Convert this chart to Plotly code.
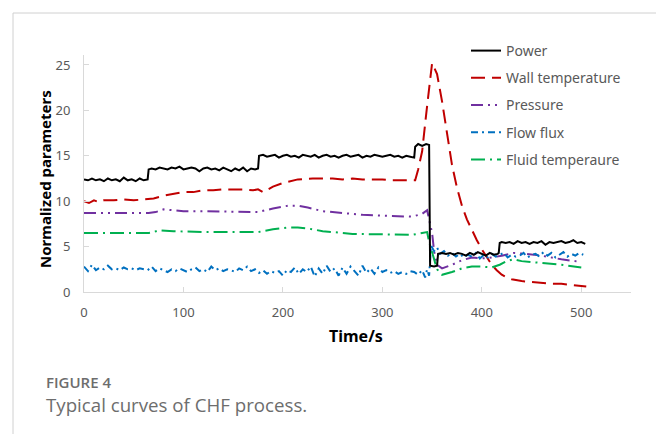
import plotly.graph_objects as go

# ---------------- data ----------------
power_t = [0, 4, 8, 12, 16, 20, 24, 28, 32, 36, 40, 44, 48, 52, 56, 60, 64,
           65, 68, 72, 76, 80, 84, 88, 92, 96, 100, 104, 108, 112, 116, 120, 124, 128,
           132, 136, 140, 144, 148, 152, 156, 160, 164, 168, 172, 175,
           176, 180, 184, 188, 192, 196, 200, 204, 208, 212, 216, 220, 224, 228, 232,
           236, 240, 244, 248, 252, 256, 260, 264, 268, 272, 276, 280, 284, 288, 292,
           296, 300, 304, 308, 312, 316, 320, 324, 328, 332,
           333, 336, 340, 344, 347, 348, 352, 355, 356,
           360, 364, 368, 372, 376, 380, 384, 388, 392, 396, 400, 404, 408, 412, 416, 417,
           418, 420, 424, 428, 432, 436, 440, 444, 448, 452, 456, 460, 464, 468, 472,
           476, 480, 484, 488, 492, 496, 500, 504]
power_v = [12.4, 12.3, 12.5, 12.3, 12.4, 12.2, 12.5, 12.3, 12.4, 12.2, 12.6, 12.3, 12.4, 12.2, 12.5, 12.3, 12.4,
           13.5, 13.6, 13.5, 13.7, 13.6, 13.5, 13.7, 13.6, 13.8, 13.5, 13.6, 13.7, 13.6, 13.3, 13.6, 13.7, 13.5,
           13.6, 13.4, 13.7, 13.5, 13.3, 13.6, 13.4, 13.7, 13.3, 13.6, 13.5, 13.6,
           15.0, 15.1, 14.9, 15.0, 15.1, 14.8, 15.0, 15.1, 14.9, 15.0, 14.8, 15.1, 15.0, 14.9, 15.1,
           14.8, 15.0, 15.1, 14.9, 15.0, 14.8, 15.0, 15.1, 14.9, 15.0, 15.1, 14.8, 15.0, 14.9, 15.1,
           15.0, 14.9, 15.0, 15.1, 14.9, 15.0, 14.8, 15.0, 14.9, 14.8,
           16.0, 16.3, 16.1, 16.3, 16.2, 2.9, 2.8, 2.9, 4.2,
           4.3, 4.2, 4.3, 4.1, 4.3, 4.2, 4.0, 4.3, 4.1, 4.4, 4.2, 4.0, 4.3, 4.1, 4.2, 4.3,
           5.4, 5.5, 5.4, 5.5, 5.3, 5.6, 5.4, 5.5, 5.3, 5.5, 5.4, 5.6, 5.2, 5.5, 5.4,
           5.5, 5.6, 5.4, 5.5, 5.7, 5.4, 5.5, 5.3]

wall_t = [0, 5, 10, 15, 20, 30, 40, 50, 60, 70, 80, 90, 100, 110, 120, 130, 140, 150, 160, 170, 175,
          180, 190, 200, 215, 230, 240, 250, 260, 270, 280, 290, 300, 310, 320, 333,
          336, 340, 345, 350, 355, 360, 365, 370, 375, 380, 385, 390, 395, 400, 405, 410, 415,
          420, 425, 430, 440, 450, 460, 470, 480, 490, 500, 505]
wall_v = [10.0, 9.8, 10.1, 9.9, 10.1, 10.1, 10.2, 10.1, 10.2, 10.3, 10.6, 10.8, 11.0, 11.0, 11.2, 11.2, 11.3, 11.3, 11.3, 11.2, 11.3,
          11.0, 11.6, 12.0, 12.4, 12.5, 12.5, 12.5, 12.4, 12.5, 12.4, 12.4, 12.4, 12.3, 12.3, 12.3,
          13.5, 15.5, 20.5, 25.2, 24.0, 21.0, 17.5, 14.0, 11.5, 9.5, 8.0, 6.8, 5.7, 4.7, 3.9, 3.0, 2.4,
          1.9, 1.6, 1.4, 1.2, 1.1, 1.0, 0.9, 0.9, 0.8, 0.7, 0.6]

press_t = [0, 20, 40, 65, 72, 80, 90, 100, 120, 150, 175, 190, 205, 215, 225, 240, 260, 280, 300, 320,
           330, 340, 345, 347, 350, 352, 355, 360, 370, 380, 390, 400, 410, 420, 432, 445, 460, 480, 500]
press_v = [8.7, 8.7, 8.7, 8.7, 8.8, 9.1, 9.0, 8.9, 8.9, 8.85, 8.8, 9.2, 9.5, 9.5, 9.3, 8.9, 8.7, 8.5, 8.4, 8.3,
           8.3, 8.6, 9.0, 8.0, 6.5, 4.5, 3.0, 2.6, 3.0, 3.5, 3.8, 3.7, 3.8, 4.0, 4.3, 4.2, 4.0, 3.6, 3.3]

flow_t = [0, 4, 8, 12, 16, 20, 24, 28, 32, 36, 40, 44, 48, 52, 56, 60, 64, 68, 72, 76,
          80, 84, 88, 92, 96, 100, 104, 108, 112, 116, 120, 124, 128, 132, 136, 140, 144, 148, 152, 156,
          160, 164, 168, 172, 176, 180, 184, 188, 192, 196, 200, 204, 208, 212, 216, 220, 224, 228, 232, 236,
          240, 244, 248, 252, 256, 260, 264, 268, 272, 276, 280, 284, 288, 292, 296, 300, 304, 308, 312, 316,
          320, 324, 328, 332, 336, 340, 343, 345, 347,
          349, 352, 355, 358, 362, 366, 370, 374, 378, 382, 386, 390, 394, 398, 402, 406, 410, 414, 418,
          422, 426, 430, 434, 438, 442, 446, 450, 454, 458, 462, 466, 470, 474, 478, 482, 486, 490, 494, 498, 502]
flow_v = [2.8, 2.3, 3.0, 2.4, 2.7, 2.5, 2.9, 2.5, 2.6, 2.4, 2.7, 2.5, 2.6, 2.4, 2.6, 2.5, 2.4, 2.8, 2.3, 2.6,
          2.4, 2.2, 2.5, 2.3, 2.6, 2.4, 2.2, 2.5, 2.7, 2.3, 2.5, 2.2, 2.8, 2.4, 2.6, 2.3, 2.5, 2.4, 2.2, 2.6,
          2.4, 2.8, 2.3, 2.5, 2.1, 2.4, 2.0, 2.3, 2.1, 2.3, 1.8, 2.4, 2.2, 2.7, 2.0, 2.5, 2.2, 2.8, 1.7, 2.6,
          2.0, 2.9, 2.2, 2.6, 1.8, 2.7, 2.0, 2.8, 2.3, 1.8, 2.9, 2.1, 2.6, 2.0, 2.7, 2.2, 2.4, 2.1, 2.3, 2.0,
          2.2, 2.0, 2.3, 2.2, 1.9, 2.4, 1.6, 2.5, 1.8,
          5.1, 4.5, 4.9, 4.2, 4.5, 4.0, 4.3, 3.9, 4.2, 3.8, 4.1, 3.9, 4.3, 3.7, 4.1, 3.8, 4.2, 3.9, 4.1,
          4.3, 3.8, 4.1, 3.9, 4.0, 4.3, 3.8, 4.1, 4.2, 3.9, 4.4, 4.0, 4.3, 3.8, 4.1, 4.4, 3.9, 4.2, 4.0, 4.3, 4.1]

fluid_t = [0, 20, 40, 65, 70, 75, 90, 120, 150, 175, 190, 205, 215, 225, 240, 270, 300, 330,
           340, 345, 347, 350, 355, 360, 370, 380, 390, 400, 410, 418, 425, 432, 440, 460, 480, 500]
fluid_v = [6.5, 6.5, 6.5, 6.5, 6.6, 6.8, 6.7, 6.6, 6.6, 6.6, 6.9, 7.1, 7.1, 7.0, 6.7, 6.4, 6.35, 6.3,
           6.5, 6.6, 5.5, 4.3, 2.5, 1.9, 2.2, 2.6, 2.8, 2.8, 2.7, 3.0, 3.4, 3.6, 3.4, 3.2, 3.0, 2.7]

names = ["Power", "Wall temperature", "Pressure", "Flow flux", "Fluid temperaure"]
colors = ["#000000", "#c00000", "#7030a0", "#0070c0", "#00b050"]
dashes = ["solid", "14px,7px", "12px,5px,2px,5px,2px,5px", "7px,4px,2px,4px", "14px,5px,2px,5px"]
series = [(power_t, power_v), (wall_t, wall_v), (press_t, press_v), (flow_t, flow_v), (fluid_t, fluid_v)]

FONT = "Noto Sans"
fig = go.Figure()
draw_order = [1, 2, 4, 3, 0]
for i in draw_order:
    t, v = series[i]
    fig.add_trace(go.Scatter(x=t, y=v, mode="lines", name=names[i], legendgroup=str(i),
                             legendrank=i + 1,
                             line=dict(color=colors[i], width=2, dash=dashes[i])))

L, R, T, B = 84, 25, 55, 142
W, H = 656, 434
pw, ph = W - L - R, H - T - B
def px(x): return (x - L) / pw
def py(y): return (H - B - y) / ph

fig.update_layout(
    width=W, height=H, margin=dict(l=L, r=R, t=T, b=B, autoexpand=False),
    paper_bgcolor="white", plot_bgcolor="white",
    font=dict(family=FONT, color="#595959", size=13),
    showlegend=True,
    legend=dict(x=px(466), y=py(35), xanchor="left", yanchor="top",
                font=dict(size=14, color="#595959"), tracegroupgap=6,
                traceorder="grouped", bgcolor="rgba(0,0,0,0)"),
    xaxis=dict(range=[0, 550], tickvals=[0, 100, 200, 300, 400, 500], showgrid=False, zeroline=False,
               showline=True, linecolor="#d9d9d9", linewidth=1, ticks="inside", ticklen=5,
               tickcolor="#d9d9d9", tickfont=dict(size=13, color="#595959"),
               ticklabelstandoff=8, automargin=False),
    yaxis=dict(range=[0, 26.1], tickvals=[0, 5, 10, 15, 20, 25], showgrid=False, zeroline=False,
               showline=True, linecolor="#d9d9d9", linewidth=1, ticks="inside", ticklen=5,
               tickcolor="#d9d9d9", tickfont=dict(size=13, color="#595959"),
               ticklabelstandoff=10, automargin=False),
)

# axis titles
fig.add_annotation(text="<b>Time/s</b>", xref="paper", yref="paper", x=px(356), y=py(336),
                   xanchor="center", yanchor="middle", showarrow=False,
                   font=dict(family=FONT, size=16, color="#000000"))
fig.add_annotation(text="<b>Normalized parameters</b>", xref="paper", yref="paper", x=px(45), y=py(179),
                   xanchor="center", yanchor="middle", showarrow=False, textangle=-90,
                   font=dict(family=FONT, size=15, color="#000000"))

# figure frame
fig.add_shape(type="line", xref="paper", yref="paper", x0=px(13), x1=px(656), y0=py(13), y1=py(13),
              line=dict(color="#d0d0d0", width=1))
fig.add_shape(type="line", xref="paper", yref="paper", x0=px(13), x1=px(13), y0=py(13), y1=py(434),
              line=dict(color="#d0d0d0", width=1))

fig.add_annotation(text="FIGURE 4", xref="paper", yref="paper", x=px(44), y=py(382),
                   xanchor="left", yanchor="middle", showarrow=False,
                   font=dict(family="Open Sans", size=15, weight=600, color="#6d6d6d"))
fig.add_annotation(text="Typical curves of CHF process.", xref="paper", yref="paper", x=px(44), y=py(404),
                   xanchor="left", yanchor="middle", showarrow=False,
                   font=dict(family="Open Sans", size=18.7, color="#6d6d6d"))

fig.write_html("out.html", config={"displayModeBar": False},
               post_script="document.body.style.margin='0';")
